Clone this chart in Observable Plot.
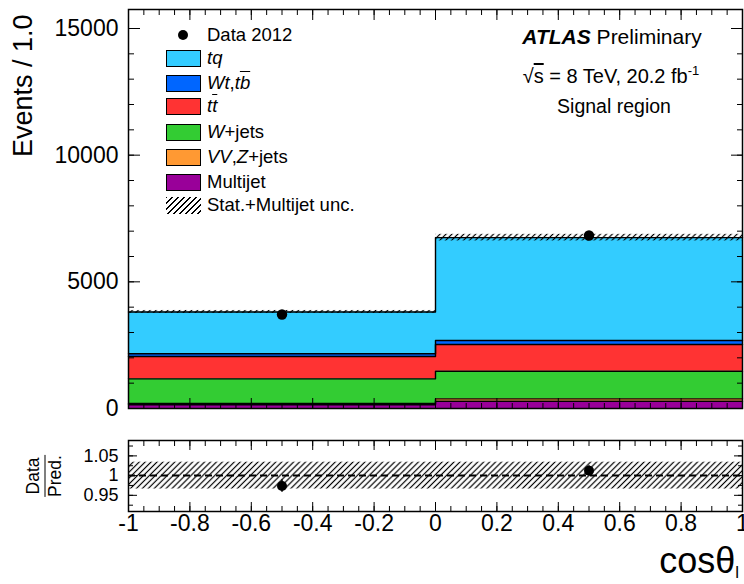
<!DOCTYPE html>
<html><head><meta charset="utf-8">
<script src="https://cdn.jsdelivr.net/npm/d3@7"></script>
<script src="https://cdn.jsdelivr.net/npm/@observablehq/plot@0.6"></script>
<style>
html,body{margin:0;padding:0;background:#fff;}
#wrap{position:relative;width:744px;height:584px;overflow:hidden;color:#000;font-family:"Liberation Sans",Arial,Helvetica,sans-serif;}
#wrap svg{display:block;}
.abs{position:absolute;white-space:nowrap;line-height:1;}
</style></head><body><div id="wrap"></div>
<script>
// ---- data ----
const binEdges = [-1, 0, 1];
const binCenters = [-0.5, 0.5];
const processKeys = ["Multijet", "VVZjets", "Wjets", "ttbar", "Wt", "tq"];          // stacking order (bottom -> top)
const processColors = ["#990099", "#ff9933", "#33cc33", "#ff3333", "#0066ff", "#33ccff"];
const multijet = [150, 285];
const vvZjets = [50, 95];
const wJets = [970, 1090];
const ttbar = [880, 1055];
const wtTb = [110, 160];
const tq = [1650, 4060];
const data2012 = [3710, 6830];
const statUncMain = [60, 130];
const ratioUnc = [0.034, 0.034];
const xTickLabels = [-1, -0.8, -0.6, -0.4, -0.2, 0, 0.2, 0.4, 0.6, 0.8, 1];
const yTickLabels = [0, 5000, 10000, 15000];
const ratioTickLabels = [0.95, 1, 1.05];
const legendLabels = ["Data 2012", "<i>tq</i>", "<i>Wt</i>,<i>t</i><i style='text-decoration:overline'>b</i>",
  "<i>t</i><i style='text-decoration:overline'>t</i>", "<i>W</i>+jets", "<i>VV</i>,<i>Z</i>+jets", "Multijet", "Stat.+Multijet unc."];

// ---- derived tables ----
const series = [multijet, vvZjets, wJets, ttbar, wtTb, tq];
const rows = [];
processKeys.forEach((p, i) => {
  const v = series[i];
  // step-after: value at left edge of each bin, final edge repeats last bin
  binEdges.forEach((x, j) => rows.push({p, x, v: v[Math.min(j, v.length - 1)]}));
});
const pred = binCenters.map((_, j) => d3.sum(series, s => s[j]));
const bins = binCenters.map((c, j) => ({
  c, x1: binEdges[j], x2: binEdges[j + 1], pred: pred[j], unc: statUncMain[j], runc: ratioUnc[j],
  data: data2012[j], err: Math.sqrt(data2012[j]),
  ratio: data2012[j] / pred[j], rerr: Math.sqrt(data2012[j]) / pred[j]
}));

const xMinor = d3.range(-20, 21).map(i => i / 20);
const yMinor = d3.range(0, 16).map(i => i * 1000);
const rMinor = d3.range(-3, 4).map(i => 1 + i * 0.025);

const hatchDefs = (id, size, w) => () => {
  const defs = d3.create("svg:defs");
  const p = defs.append("pattern").attr("id", id).attr("patternUnits", "userSpaceOnUse")
    .attr("width", size).attr("height", size).attr("patternTransform", "rotate(45)");
  p.append("line").attr("x1", size / 2).attr("x2", size / 2).attr("y1", 0).attr("y2", size)
    .attr("stroke", "black").attr("stroke-width", w);
  return defs.node();
};

const fmt = d => String(Math.round(d * 100) / 100);
const font = "'Liberation Sans', Arial, Helvetica, sans-serif";

const tickAxes = (axis, anchorA, anchorB, major, minor, lenMajor, lenMinor) => [
  axis(major, {anchor: anchorA, tickSize: -lenMajor, tickFormat: () => "", label: null, strokeWidth: 1}),
  axis(minor, {anchor: anchorA, tickSize: -lenMinor, tickFormat: () => "", label: null, strokeWidth: 1}),
  axis(major, {anchor: anchorB, tickSize: -lenMajor, tickFormat: () => "", label: null, strokeWidth: 1}),
  axis(minor, {anchor: anchorB, tickSize: -lenMinor, tickFormat: () => "", label: null, strokeWidth: 1})
];

const main = Plot.plot({
  width: 744, height: 420,
  marginLeft: 128, marginRight: 2, marginTop: 9, marginBottom: 12,
  style: {background: "white", color: "black", fontFamily: font, overflow: "visible"},
  x: {domain: [-1, 1]},
  y: {domain: [0, 15750]},
  color: {type: "ordinal", domain: processKeys, range: processColors},
  marks: [
    hatchDefs("hatchMain", 4.2, 1.2),
    Plot.areaY(rows, {x: "x", y: "v", z: "p", fill: "p", curve: "step-after"}),
    Plot.lineY(rows, Plot.stackY2({x: "x", y: "v", z: "p", curve: "step-after", stroke: "black", strokeWidth: 1.4})),
    Plot.rect(bins, {x1: "x1", x2: "x2", y1: d => d.pred - d.unc, y2: d => d.pred + d.unc, fill: "url(#hatchMain)"}),
    Plot.ruleX(bins, {x: "c", y1: d => d.data - d.err, y2: d => d.data + d.err, stroke: "black", strokeWidth: 1.5}),
    Plot.dot(bins, {x: "c", y: "data", r: 5.2, fill: "black", stroke: "none"}),
    Plot.axisY(yTickLabels, {anchor: "left", tickSize: 0, tickPadding: 10, fontSize: 23, label: null, tickFormat: fmt}),
    ...tickAxes(Plot.axisY, "left", "right", yTickLabels, yMinor, 12, 6),
    ...tickAxes(Plot.axisX, "bottom", "top", xTickLabels, xMinor, 10, 5),
    Plot.frame({stroke: "black", strokeWidth: 1.5})
  ]
});

const ratio = Plot.plot({
  width: 744, height: 164,
  marginLeft: 128, marginRight: 2, marginTop: 20, marginBottom: 73,
  style: {background: "white", color: "black", fontFamily: font, overflow: "visible"},
  x: {domain: [-1, 1]},
  y: {domain: [0.909, 1.089]},
  marks: [
    hatchDefs("hatchRatio", 4.2, 1.2),
    Plot.rect(bins, {x1: "x1", x2: "x2", y1: d => 1 - d.runc, y2: d => 1 + d.runc, fill: "url(#hatchRatio)"}),
    Plot.ruleY([1], {stroke: "black", strokeWidth: 2, strokeDasharray: "7,4"}),
    Plot.ruleX(bins, {x: "c", y1: d => d.ratio - d.rerr, y2: d => d.ratio + d.rerr, stroke: "black", strokeWidth: 1.5}),
    Plot.dot(bins, {x: "c", y: "ratio", r: 5, fill: "black", stroke: "none"}),
    Plot.axisY(ratioTickLabels, {anchor: "left", tickSize: 0, tickPadding: 10, fontSize: 18, label: null, tickFormat: fmt}),
    Plot.axisX(xTickLabels, {anchor: "bottom", tickSize: 0, tickPadding: 3, fontSize: 23, label: null, tickFormat: fmt}),
    ...tickAxes(Plot.axisY, "left", "right", ratioTickLabels, rMinor, 9, 5),
    ...tickAxes(Plot.axisX, "bottom", "top", xTickLabels, xMinor, 9, 5),
    Plot.frame({stroke: "black", strokeWidth: 1.5})
  ]
});

const wrap = document.getElementById("wrap");
main.style.position = "absolute"; main.style.left = "0px"; main.style.top = "0px";
ratio.style.position = "absolute"; ratio.style.left = "0px"; ratio.style.top = "420px";
wrap.appendChild(main);
wrap.appendChild(ratio);

function addDiv(html, css) {
  const d = document.createElement("div");
  d.className = "abs";
  d.innerHTML = html;
  Object.assign(d.style, css);
  wrap.appendChild(d);
  return d;
}

// axis titles
addDiv("Events / 1.0", {left: "10px", top: "157px", fontSize: "27px", transformOrigin: "0 0", transform: "rotate(-90deg)"});
addDiv("<div style='border-bottom:1.3px solid #000;padding:0 1px 2px 1px'>Data</div><div style='padding-top:1px'>Pred.</div>",
  {left: "44px", top: "476px", fontSize: "17.5px", textAlign: "center", transform: "translate(-50%,-50%) rotate(-90deg)"});
addDiv("cosθ<span style='font-size:17px;position:relative;top:5px'>l</span>",
  {right: "5px", top: "543px", fontSize: "36px"});

// ATLAS label
addDiv("<b><i>ATLAS</i></b> Preliminary", {left: "612px", top: "26px", fontSize: "21px", transform: "translateX(-50%)"});
addDiv("√<span style='text-decoration:overline'>s</span> = 8 TeV, 20.2 fb<span style='font-size:13px;position:relative;top:-8px'>-1</span>",
  {left: "611px", top: "66px", fontSize: "20px", transform: "translateX(-50%)"});
addDiv("Signal region", {left: "614px", top: "96.5px", fontSize: "19.5px", transform: "translateX(-50%)"});

// legend
const legendY = [35, 58.5, 83, 106.5, 132, 157, 182, 205.5];
const legendSwatch = ["dot", processColors[5], processColors[4], processColors[3], processColors[2], processColors[1], processColors[0], "hatch"];
legendLabels.forEach((lab, i) => {
  const cy = legendY[i];
  const sw = legendSwatch[i];
  if (sw === "dot") {
    addDiv("", {left: "178px", top: (cy - 5.2) + "px", width: "10.4px", height: "10.4px", borderRadius: "50%", background: "#000"});
  } else if (sw === "hatch") {
    addDiv("", {left: "166px", top: (cy - 8.5) + "px", width: "35px", height: "17px",
      background: "repeating-linear-gradient(135deg, #000 0 1.1px, transparent 1.1px 4.2px)"});
  } else {
    addDiv("", {left: "166px", top: (cy - 8.5) + "px", width: "33px", height: "15px", background: sw, border: "1px solid #000"});
  }
  addDiv(lab, {left: "207px", top: (cy - 9.25) + "px", fontSize: "18.5px"});
});
</script></body></html>
